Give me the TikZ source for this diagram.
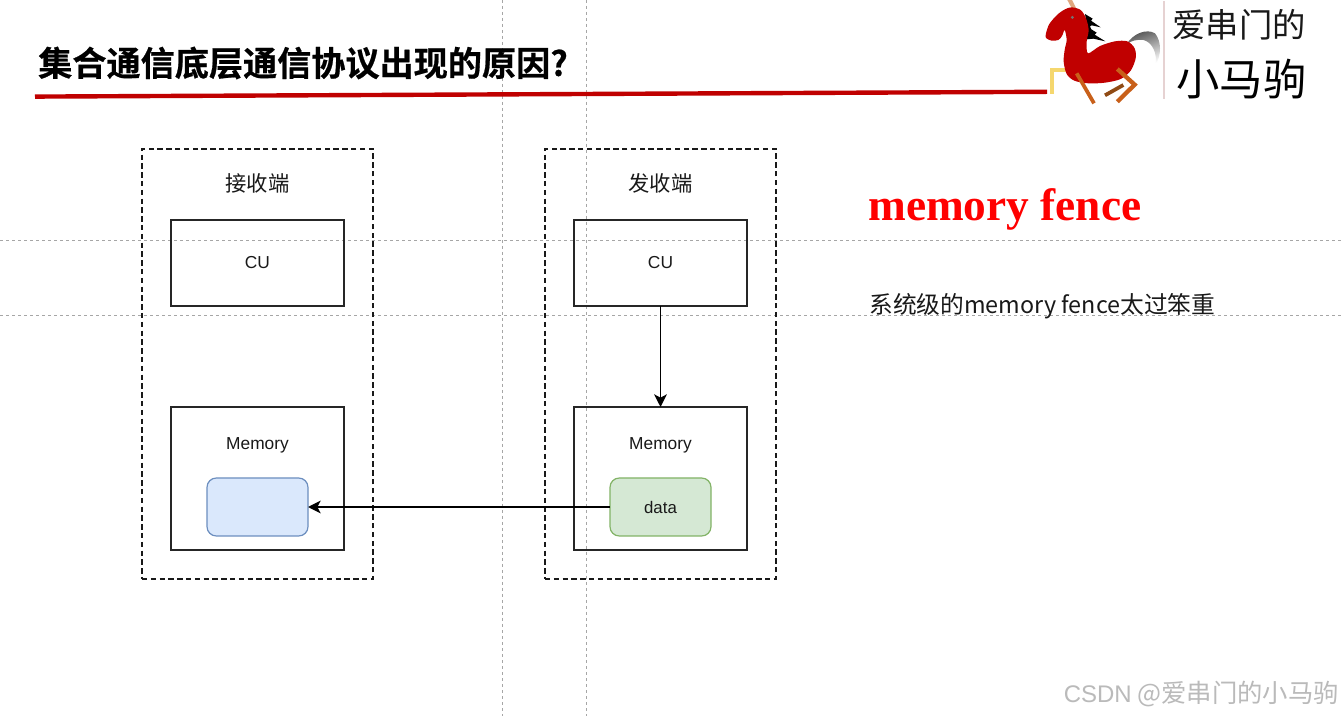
\documentclass[tikz,border=0pt]{standalone}
\usepackage{fontspec}
\setmainfont{Liberation Sans}
\newfontfamily\cjk{Noto Sans CJK SC}
\newfontfamily\cjkb[FakeBold=0.6]{Noto Sans CJK SC Bold}
\newfontfamily\serifb{Liberation Serif Bold}
\usetikzlibrary{arrows.meta,shadings}
\definecolor{guide}{HTML}{A6A6A6}
\definecolor{brand}{HTML}{C00000}
\definecolor{bluefill}{HTML}{DAE8FC}
\definecolor{blueline}{HTML}{6C8EBF}
\definecolor{greenfill}{HTML}{D5E8D4}
\definecolor{greenline}{HTML}{82B366}
\definecolor{legcol}{HTML}{C8601A}
\definecolor{legdark}{HTML}{8F4A14}
\definecolor{legyellow}{HTML}{F5D76E}
\definecolor{hornc}{HTML}{E0A77E}
\definecolor{sepc}{HTML}{E6D2D2}
\tikzset{
  guideline/.style={guide,line width=0.6pt,dash pattern=on 2.25pt off 2.25pt},
  outerbox/.style={draw=black!90,line width=0.95pt,dash pattern=on 4pt off 2.6pt,minimum width=173.25pt,minimum height=322.5pt,inner sep=0pt,outer sep=0pt},
  unitbox/.style={draw=black!85,line width=1pt,minimum width=129.75pt,inner sep=0pt,outer sep=0pt},
  cellbox/.style={rounded corners=7pt,line width=0.9pt,minimum width=75.75pt,minimum height=43.5pt,inner sep=0pt,outer sep=0pt},
  cjklabel/.style={font=\cjk\fontsize{16}{18}\selectfont,text=black!90,inner sep=0pt},
  smalllabel/.style={font=\fontsize{13}{15}\selectfont,text=black!90,inner sep=0pt},
  link/.style={draw=black,line width=1.1pt,-{Stealth[length=9.5pt,width=9.5pt,inset=2.5pt]}},
  legpiece/.style={line width=#1,line cap=butt,line join=miter},
}
\begin{document}
\begin{tikzpicture}[x=0.75pt,y=-0.75pt]
\useasboundingbox[fill=white] (0,0) rectangle (1343,716);
% guides
\draw[guideline] (502,0) -- (502,716);
\draw[guideline] (586,0) -- (586,716);
\draw[guideline] (0,240) -- (1343,240);
\draw[guideline] (0,315) -- (1343,315);
% title
\node[anchor=west,inner sep=0pt,font=\cjkb\fontsize{25.6}{28}\selectfont,text=black] (title) at (38,63) {集合通信底层通信协议出现的原因?};
\coordinate (ruleL) at (35,96.6);
\coordinate (ruleR) at (1047,91.8);
\draw[brand,line width=3.3pt] (ruleL) -- (ruleR);
% logo
\begin{scope}[shift={(1030,0)},x=0.25pt,y=-0.25pt]
  \fill[sepc] (400,3) rectangle (405,296);
  \draw[legpiece=3.2pt,color=legyellow] (65,282) -- (65,209) -- (112,209);
  \shade[left color=black!70,right color=white,shading angle=20]
    (290,132) .. controls (310,100) and (350,85) .. (375,100)
    .. controls (395,125) and (395,165) .. (375,198)
    .. controls (385,160) and (365,125) .. (340,120)
    .. controls (320,118) and (305,122) .. (290,132) -- cycle;
  \fill[black] (165,42) -- (188,56) -- (183,62) -- (212,82) -- (185,76) -- (172,85) -- cycle;
  \fill[black] (150,90) -- (178,75) -- (184,88) -- (200,98) -- (194,104) -- (226,124) -- (190,116) -- (172,118) -- cycle;
  \fill[hornc] (112,0) -- (126,0) -- (140,28) -- (128,30) -- cycle;
  \fill[brand] plot[smooth cycle,tension=0.5] coordinates {
    (48,100) (58,72) (82,44) (105,28) (125,22) (152,30) (168,55) (176,90) (170,125) (174,160)
    (210,138) (255,124) (292,124) (314,145) (317,175) (302,212) (272,237) (225,248) (175,250)
    (133,242) (110,222) (101,185) (104,150) (110,120) (104,90) (96,108) (85,120) (65,122) (48,114)};
  \fill[black!55] (127,52) circle (5);
  \draw[legpiece=2.8pt,color=legcol] (140,220) -- (192,310);
  \draw[legpiece=3.2pt,color=legcol] (262,207) -- (314,254) -- (262,305);
  \draw[legpiece=2.8pt,color=legdark] (225,286) -- (280,255);
\end{scope}
\node[inner sep=0pt,font=\cjk\fontsize{25}{28}\selectfont,text=black!90] (logotop) at (1239,25) {爱串门的};
\node[inner sep=0pt,font=\cjk\fontsize{32.5}{36}\selectfont,text=black] (logobot) at (1241.5,79) {小马驹};
% receiver
\node[outerbox] (recv) at (257.5,364) {};
\node[cjklabel] (recvT) at (257.5,183) {接收端};
\node[unitbox,minimum height=64.5pt] (recvCU) at (257.5,263) {};
\node[smalllabel] (recvCUt) at (257.5,262.5) {CU};
\node[unitbox,minimum height=107.25pt] (recvM) at (257.5,478.5) {};
\node[smalllabel] (recvMt) at (257.5,445.5) {Memory};
\node[cellbox,draw=blueline,fill=bluefill] (recvD) at (257.5,507) {};
% sender
\node[outerbox] (send) at (660.5,364) {};
\node[cjklabel] (sendT) at (660.5,183) {发收端};
\node[unitbox,minimum height=64.5pt] (sendCU) at (660.5,263) {};
\node[smalllabel] (sendCUt) at (660.5,262.5) {CU};
\node[unitbox,minimum height=107.25pt] (sendM) at (660.5,478.5) {};
\node[smalllabel] (sendMt) at (660.5,445.5) {Memory};
\node[cellbox,draw=greenline,fill=greenfill,font=\fontsize{12.6}{15}\selectfont,text=black!90] (sendD) at (660.5,507) {data};
% connectors
\draw[link] (sendCU.south) -- (sendM.north);
\draw[link] (sendD.west) -- (recvD.east);
% right text
\node[anchor=base west,inner sep=0pt,text=red,font=\serifb\fontsize{34}{38}\selectfont] (fence) at (868,221) {memory fence};
\node[anchor=base west,inner sep=0pt,text=black!90,font=\cjk\fontsize{17.8}{20}\selectfont] (note) at (869,313.5) {系统级的{\fontsize{17.5}{20}\selectfont memory fence}太过笨重};
% watermark
\node[anchor=east,inner sep=0pt,text=black!27,font=\cjk\fontsize{19}{22}\selectfont] (mark) at (1339,694) {{\rmfamily\fontsize{18}{22}\selectfont CSDN} @爱串门的小马驹};
\end{tikzpicture}
\end{document}
